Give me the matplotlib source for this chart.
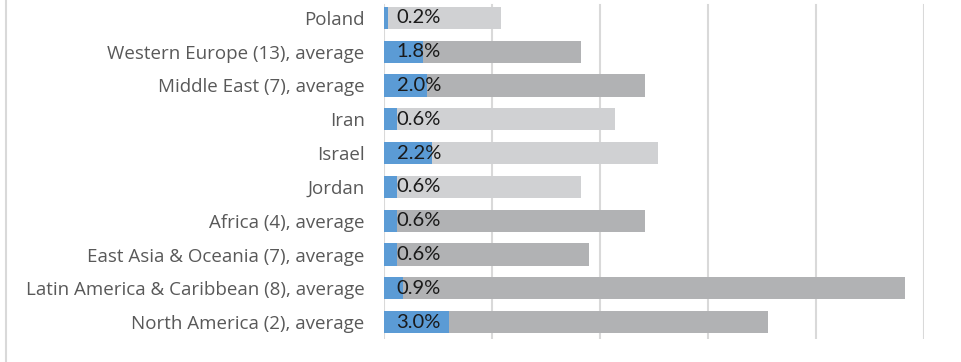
import matplotlib
matplotlib.use("Agg")
import matplotlib.pyplot as plt
from matplotlib.lines import Line2D

categories = [
    "Poland",
    "Western Europe (13), average",
    "Middle East (7), average",
    "Iran",
    "Israel",
    "Jordan",
    "Africa (4), average",
    "East Asia & Oceania (7), average",
    "Latin America & Caribbean (8), average",
    "North America (2), average",
]
blue_values = [0.2, 1.8, 2.0, 0.6, 2.2, 0.6, 0.6, 0.6, 0.9, 3.0]
grey_values = [5.4, 9.1, 12.1, 10.7, 12.7, 9.1, 12.1, 9.5, 24.1, 17.8]
is_country = [True, False, False, True, True, True, False, False, False, False]
blue_labels = ["0.2%", "1.8%", "2.0%", "0.6%", "2.2%", "0.6%", "0.6%", "0.6%", "0.9%", "3.0%"]
grid_ticks = [0, 5, 10, 15, 20, 25]

plt.rcParams['font.family'] = ['Lato', 'DejaVu Sans']

fig = plt.figure(figsize=(9.62, 3.62), dpi=100)
ax = fig.add_axes([384/962, 23/362, 540/962, 338/362])

y = list(range(len(categories)))
grey_colors = ["#D0D1D3" if c else "#B1B2B4" for c in is_country]
ax.barh(y, grey_values, height=0.66, color=grey_colors, zorder=2)
ax.barh(y, blue_values, height=0.66, color="#5B9BD5", zorder=3)

for i, lab in enumerate(blue_labels):
    ax.annotate(lab, xy=(0, i), xytext=(9, 0), textcoords="offset points",
                ha="left", va="center", fontsize=14.5, color="#1a1a1a", zorder=4)

ax.set_xlim(0, 25)
ax.set_ylim(len(categories) - 0.5, -0.5)
ax.set_xticks(grid_ticks)
ax.set_xticklabels([])
for t in grid_ticks:
    ax.axvline(t, ymin=0, ymax=(338 - 4) / 338, color="#D9D9D9", linewidth=1.5, zorder=0)
ax.set_yticks(y)
ax.set_yticklabels(categories, fontsize=13.5, color="#595959", family=['Open Sans', 'DejaVu Sans'])
ax.tick_params(axis="both", length=0)
ax.tick_params(axis="y", pad=14)
for s in ax.spines.values():
    s.set_visible(False)

fig.add_artist(Line2D([5.5/962, 5.5/962], [0, 1], color="#D9D9D9", linewidth=1.5,
                      transform=fig.transFigure))

fig.savefig("out.png", dpi=100)
